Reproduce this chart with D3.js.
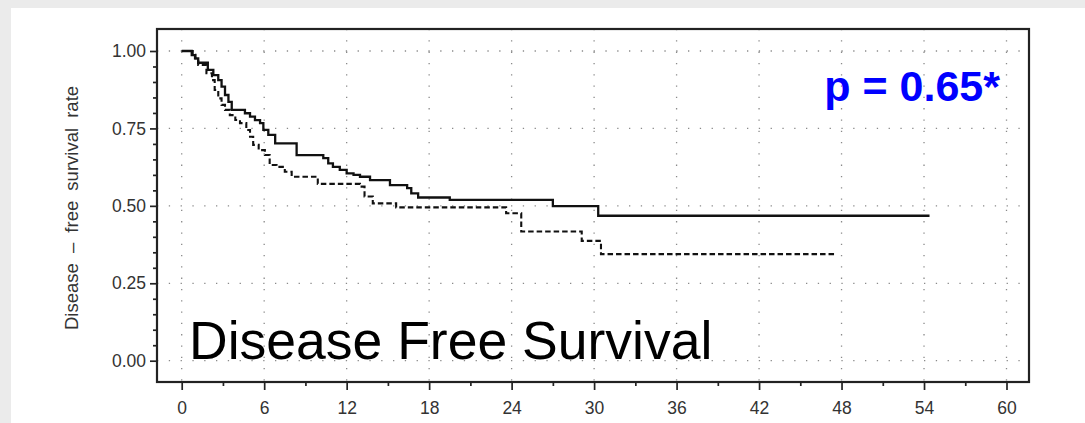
<!DOCTYPE html>
<html>
<head>
<meta charset="utf-8">
<script src="https://cdn.jsdelivr.net/npm/d3@7/dist/d3.min.js"></script>
<style>
  html, body { margin: 0; padding: 0; background: #ebebeb; }
  svg { display: block; }
</style>
</head>
<body>
<svg id="chart" width="1085" height="423"></svg>
<script>
// ---- data ----
const solidTimes = [0, 0.73, 0.97, 1.2, 1.9, 2.3, 2.66, 2.9, 3.15, 3.4, 3.64, 4.6, 4.97, 5.33, 5.7, 5.94, 6.3, 6.8, 8.36, 10.3, 10.66, 11.0, 11.5, 12.0, 12.5, 12.97, 13.7, 15.15, 16.4, 16.7, 17.2, 19.5, 27.0, 30.3, 54.4];
const solidSurv  = [1.0, 0.987, 0.976, 0.962, 0.939, 0.922, 0.906, 0.885, 0.858, 0.836, 0.81, 0.799, 0.788, 0.777, 0.767, 0.745, 0.729, 0.702, 0.664, 0.654, 0.637, 0.626, 0.616, 0.605, 0.6, 0.594, 0.583, 0.567, 0.557, 0.54, 0.527, 0.519, 0.499, 0.468, 0.468];

const dashedTimes = [0, 0.8, 1.0, 1.2, 1.8, 2.2, 2.4, 2.66, 2.9, 3.15, 3.5, 3.9, 4.24, 4.7, 4.97, 5.2, 5.6, 6.05, 6.4, 6.9, 7.5, 8.0, 9.9, 12.97, 13.3, 13.9, 15.6, 23.6, 24.7, 29.1, 30.5, 47.6];
const dashedSurv  = [1.0, 0.988, 0.976, 0.955, 0.928, 0.906, 0.874, 0.847, 0.826, 0.81, 0.793, 0.777, 0.767, 0.745, 0.723, 0.697, 0.68, 0.664, 0.632, 0.626, 0.61, 0.594, 0.571, 0.562, 0.53, 0.508, 0.495, 0.476, 0.417, 0.387, 0.344, 0.344];

const xTicks = [0, 6, 12, 18, 24, 30, 36, 42, 48, 54, 60];
const xMinorTicks = [3, 9, 15, 21, 27, 33, 39, 45, 51, 57];
const yTicks = [0, 0.25, 0.5, 0.75, 1.0];
const yTickLabels = ["0.00", "0.25", "0.50", "0.75", "1.00"];
const yMinorTicks = [0.05, 0.1, 0.15, 0.2, 0.3, 0.35, 0.4, 0.45, 0.55, 0.6, 0.65, 0.7, 0.8, 0.85, 0.9, 0.95];

const yTitle = "Disease \u2013 free survival rate";
const pText = "p = 0.65*";
const chartLabel = "Disease Free Survival";

// ---- layout ----
const svg = d3.select("#chart");
const FONT = "'Liberation Sans', Arial, Helvetica, sans-serif";
const box = { left: 157, top: 29, right: 1029, bottom: 382 };

svg.append("rect").attr("x", 11).attr("y", 8).attr("width", 1085 - 11).attr("height", 423 - 8).attr("fill", "#ffffff");

const x = d3.scaleLinear().domain([0, 60]).range([181.7, 1006.5]);
const y = d3.scaleLinear().domain([0, 1]).range([360.7, 51]);

// grid
const grid = svg.append("g");
grid.selectAll("line.vx").data(xTicks).enter().append("line")
  .attr("x1", d => x(d)).attr("x2", d => x(d))
  .attr("y1", box.top).attr("y2", box.bottom)
  .attr("stroke", "#8a8a8a").attr("stroke-width", 1.3).attr("stroke-dasharray", "1.3,10");
grid.selectAll("line.hy").data(yTicks).enter().append("line")
  .attr("x1", box.left).attr("x2", box.right)
  .attr("y1", d => y(d)).attr("y2", d => y(d))
  .attr("stroke", "#8a8a8a").attr("stroke-width", 1.3).attr("stroke-dasharray", "1.3,10.5");

// curves
const line = d3.line().x(d => x(d[0])).y(d => y(d[1])).curve(d3.curveStepAfter);
svg.append("path").datum(solidTimes.map((t, i) => [t, solidSurv[i]]))
  .attr("d", line).attr("fill", "none").attr("stroke", "#111").attr("stroke-width", 2.3);
svg.append("path").datum(dashedTimes.map((t, i) => [t, dashedSurv[i]]))
  .attr("d", line).attr("fill", "none").attr("stroke", "#111").attr("stroke-width", 2.1)
  .attr("stroke-dasharray", "5.5,3");

// box
svg.append("rect").attr("x", box.left).attr("y", box.top)
  .attr("width", box.right - box.left).attr("height", box.bottom - box.top)
  .attr("fill", "none").attr("stroke", "#222").attr("stroke-width", 2.2);

// axes
const yAxis = d3.axisLeft(y).tickValues(yTicks).tickSize(6).tickPadding(4)
  .tickFormat((d, i) => yTickLabels[i]);
const gy = svg.append("g").attr("transform", `translate(${box.left - 1},0)`).call(yAxis);
const yMinor = d3.axisLeft(y).tickValues(yMinorTicks).tickSize(3).tickFormat("");
const gym = svg.append("g").attr("transform", `translate(${box.left - 1},0)`).call(yMinor);

const xAxis = d3.axisBottom(x).tickValues(xTicks).tickSize(7).tickPadding(12).tickFormat(d3.format("d"));
const gx = svg.append("g").attr("transform", `translate(0,${box.bottom + 1})`).call(xAxis);
const xMinor = d3.axisBottom(x).tickValues(xMinorTicks).tickSize(3).tickFormat("");
const gxm = svg.append("g").attr("transform", `translate(0,${box.bottom + 1})`).call(xMinor);

[gy, gym, gx, gxm].forEach(g => {
  g.select(".domain").remove();
  g.selectAll(".tick line").attr("stroke", "#222").attr("stroke-width", 1.7);
  g.selectAll("text").attr("fill", "#333").style("font-family", FONT).style("font-size", "17.5px");
});

// y title
svg.append("text")
  .attr("transform", "translate(78,208) rotate(-90)")
  .attr("text-anchor", "middle")
  .style("font-family", FONT).style("font-size", "18.5px").style("word-spacing", "5px")
  .attr("fill", "#333")
  .text(yTitle);

// p-value
svg.append("text").attr("x", 1000).attr("y", 101).attr("text-anchor", "end")
  .style("font-family", FONT).style("font-size", "43px").style("font-weight", "bold")
  .attr("fill", "#0000ff").text(pText);

// label
svg.append("text").attr("x", 189).attr("y", 359)
  .style("font-family", FONT).style("font-size", "53.5px")
  .attr("fill", "#000").text(chartLabel);
</script>
</body>
</html>
